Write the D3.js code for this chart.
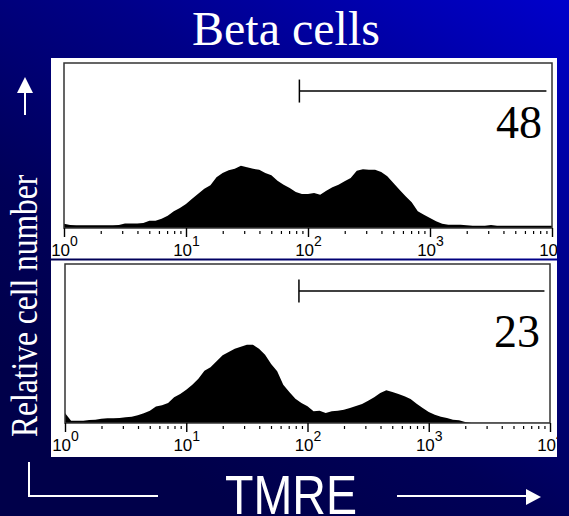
<!DOCTYPE html>
<html>
<head>
<meta charset="utf-8">
<script src="https://cdn.jsdelivr.net/npm/d3@7"></script>
<style>
  body { margin: 0; background: #000060; }
  svg { display: block; }
</style>
</head>
<body>
<div id="chart"></div>
<script>
const title = "Beta cells";
const xLabel = "TMRE";
const yLabel = "Relative cell number";

// log10 channels, 0.05 decade apart, 10^0 .. 10^4
const binStep = 0.05;
const decades = [1, 10, 100, 1000, 10000];

// counts as % of plot height
const topCounts = [
  2.6, 1.8, 1.6, 1.6, 1.6, 1.6, 1.6, 1.6, 1.6, 1.8,
  2.8, 2.8, 2.8, 3.0, 4.4, 4.4, 5.6, 7.5, 10.1, 12.1,
  14.5, 17.8, 20.8, 23.8, 25.9, 30.7, 33.3, 35.0, 35.9, 37.8,
  36.8, 35.9, 35.3, 33.3, 31.9, 28.7, 26.2, 24.2, 21.8, 20.6,
  20.6, 21.2, 20.2, 22.6, 24.7, 26.2, 28.3, 30.3, 34.7, 35.6,
  35.3, 35.3, 33.9, 31.3, 27.3, 23.2, 19.2, 15.6, 10.1, 8.1,
  6.1, 4.1, 2.6, 2.0, 2.0, 2.0, 1.6, 1.4, 1.4, 1.4,
  1.8, 1.4, 1.4, 1.4, 1.4, 1.4, 1.4, 1.4, 1.4, 1.4, 1.4
];
const bottomCounts = [
  6.3, 1.4, 1.4, 1.4, 1.9, 2.1, 2.7, 3.0, 3.0, 3.1,
  3.6, 4.0, 4.8, 6.1, 7.7, 10.3, 11.1, 12.6, 16.2, 18.2,
  20.9, 24.1, 27.9, 32.9, 35.0, 38.8, 42.6, 44.7, 46.7, 48.0,
  49.2, 49.2, 46.7, 43.0, 37.1, 32.5, 24.1, 19.5, 15.3, 12.6,
  10.5, 7.4, 7.7, 6.3, 7.4, 7.7, 8.4, 9.4, 10.7, 11.9,
  14.0, 16.2, 18.9, 20.6, 19.5, 18.2, 16.8, 15.1, 12.1, 9.4,
  6.9, 5.2, 4.0, 3.1, 2.1, 1.7, 0.6, 0.2, 0.2, 0.2,
  0.2, 0.2, 0.2, 0.2, 0.2, 0.2, 0.2, 0.2, 0.2, 0.2, 0.2
];

const gatePercents = [48, 23];
const gateRange = [85, 9000];
const gateLevel = 83;

const width = 569;
const height = 516;

const svg = d3
  .select("#chart")
  .append("svg")
  .attr("width", width)
  .attr("height", height);

const defs = svg.append("defs");
const grad = defs
  .append("linearGradient")
  .attr("id", "bg")
  .attr("gradientUnits", "userSpaceOnUse")
  .attr("x1", 569)
  .attr("y1", 0)
  .attr("x2", 250)
  .attr("y2", 516);
grad.append("stop").attr("offset", 0).attr("stop-color", "#0000cc");
grad.append("stop").attr("offset", 0.4).attr("stop-color", "#000088");
grad.append("stop").attr("offset", 0.75).attr("stop-color", "#000058");
grad.append("stop").attr("offset", 1).attr("stop-color", "#00004a");

svg
  .append("rect")
  .attr("width", width)
  .attr("height", height)
  .attr("fill", "url(#bg)");

// title
svg
  .append("text")
  .attr("x", 286)
  .attr("y", 45)
  .attr("text-anchor", "middle")
  .attr("font-family", "Liberation Serif, Times New Roman, serif")
  .attr("font-size", 48)
  .attr("fill", "#fff")
  .text(title);

const panels = [
  {
    counts: topCounts,
    pct: gatePercents[0],
    box: { x0: 51, y0: 58, x1: 557, y1: 258.5 },
    frame: { l: 64, r: 552, t: 63, b: 228 },
    pctY: 75,
  },
  {
    counts: bottomCounts,
    pct: gatePercents[1],
    box: { x0: 51, y0: 260.5, x1: 557, y1: 457 },
    frame: { l: 65, r: 550, t: 264, b: 423 },
    pctY: 83,
  },
];

const minorTicks = [];
decades.slice(0, -1).forEach((d) => {
  for (let m = 2; m < 10; m++) minorTicks.push(d * m);
});

panels.forEach((p, pi) => {
  const { box, frame } = p;
  const g = svg.append("g");

  g.append("rect")
    .attr("x", box.x0)
    .attr("y", box.y0)
    .attr("width", box.x1 - box.x0)
    .attr("height", box.y1 - box.y0)
    .attr("fill", "#fff");

  defs
    .append("clipPath")
    .attr("id", `box${pi}`)
    .append("rect")
    .attr("x", box.x0)
    .attr("y", box.y0)
    .attr("width", box.x1 - box.x0)
    .attr("height", box.y1 - box.y0);

  defs
    .append("clipPath")
    .attr("id", `frame${pi}`)
    .append("rect")
    .attr("x", frame.l)
    .attr("y", frame.t)
    .attr("width", frame.r - frame.l)
    .attr("height", frame.b - frame.t);

  const x = d3.scaleLog().domain([1, 10000]).range([frame.l, frame.r]);
  const y = d3.scaleLinear().domain([0, 100]).range([frame.b, frame.t]);

  const area = d3
    .area()
    .x((d, i) => x(Math.pow(10, i * binStep)))
    .y0(frame.b)
    .y1((d) => y(d))
    .curve(d3.curveLinear);

  g.append("path")
    .datum(p.counts)
    .attr("clip-path", `url(#frame${pi})`)
    .attr("d", area)
    .attr("fill", "#000");

  g.append("rect")
    .attr("x", frame.l)
    .attr("y", frame.t)
    .attr("width", frame.r - frame.l)
    .attr("height", frame.b - frame.t)
    .attr("fill", "none")
    .attr("stroke", "#333")
    .attr("stroke-width", 1.5);

  // minor ticks sit a little below the frame
  const minor = g
    .append("g")
    .attr("transform", `translate(0,${frame.b + 3})`)
    .call(d3.axisBottom(x).tickValues(minorTicks).tickSize(3).tickFormat(""));
  minor.select(".domain").remove();
  minor.selectAll("line").attr("stroke", "#000").attr("stroke-width", 1.2);

  const major = g
    .append("g")
    .attr("clip-path", `url(#box${pi})`)
    .append("g")
    .attr("transform", `translate(0,${frame.b})`)
    .call(d3.axisBottom(x).tickValues(decades).tickSize(9));
  major.select(".domain").remove();
  major.selectAll("line").attr("stroke", "#000").attr("stroke-width", 1.4);
  major
    .selectAll(".tick text")
    .attr("y", 28)
    .attr("dy", null)
    .attr("font-family", "Liberation Sans, Arial, sans-serif")
    .attr("font-size", 17)
    .attr("fill", "#000")
    .each(function (d) {
      const t = d3.select(this);
      t.text(null);
      t.append("tspan").text("10");
      t.append("tspan")
        .attr("dy", -10)
        .attr("font-size", 14)
        .text(Math.round(Math.log10(d)));
    });

  // gate marker
  const gy = y(gateLevel);
  g.append("line")
    .attr("x1", x(gateRange[0]))
    .attr("x2", x(gateRange[1]))
    .attr("y1", gy)
    .attr("y2", gy)
    .attr("stroke", "#000")
    .attr("stroke-width", 1.5);
  g.append("line")
    .attr("x1", x(gateRange[0]))
    .attr("x2", x(gateRange[0]))
    .attr("y1", gy - 11.5)
    .attr("y2", gy + 11.5)
    .attr("stroke", "#000")
    .attr("stroke-width", 1.5);

  g.append("text")
    .attr("x", frame.r - 10)
    .attr("y", frame.t + p.pctY)
    .attr("text-anchor", "end")
    .attr("font-family", "Liberation Serif, Times New Roman, serif")
    .attr("font-size", 46)
    .attr("fill", "#000")
    .text(p.pct);
});

// y label with arrow
svg
  .append("text")
  .attr("transform", "translate(37,437) rotate(-90) scale(1,1.2)")
  .attr("font-family", "Liberation Serif, Times New Roman, serif")
  .attr("font-size", 31.5)
  .attr("fill", "#fff")
  .text(yLabel);

svg
  .append("line")
  .attr("x1", 25)
  .attr("x2", 25)
  .attr("y1", 115)
  .attr("y2", 92)
  .attr("stroke", "#fff")
  .attr("stroke-width", 2);
svg
  .append("path")
  .attr("d", "M17,93L33,93L25,77Z")
  .attr("fill", "#fff");

// x label with bracket line and arrow
svg
  .append("text")
  .attr("transform", "translate(291,514) scale(1,1.18)")
  .attr("text-anchor", "middle")
  .attr("font-family", "Liberation Sans, Arial, sans-serif")
  .attr("font-size", 46.6)
  .attr("fill", "#fff")
  .text(xLabel);

svg
  .append("path")
  .attr("d", "M29,462L29,496L158,496")
  .attr("fill", "none")
  .attr("stroke", "#fff")
  .attr("stroke-width", 2);
svg
  .append("line")
  .attr("x1", 397)
  .attr("x2", 527)
  .attr("y1", 496)
  .attr("y2", 496)
  .attr("stroke", "#fff")
  .attr("stroke-width", 2);
svg
  .append("path")
  .attr("d", "M526,489L526,505L541,497Z")
  .attr("fill", "#fff");
</script>
</body>
</html>
